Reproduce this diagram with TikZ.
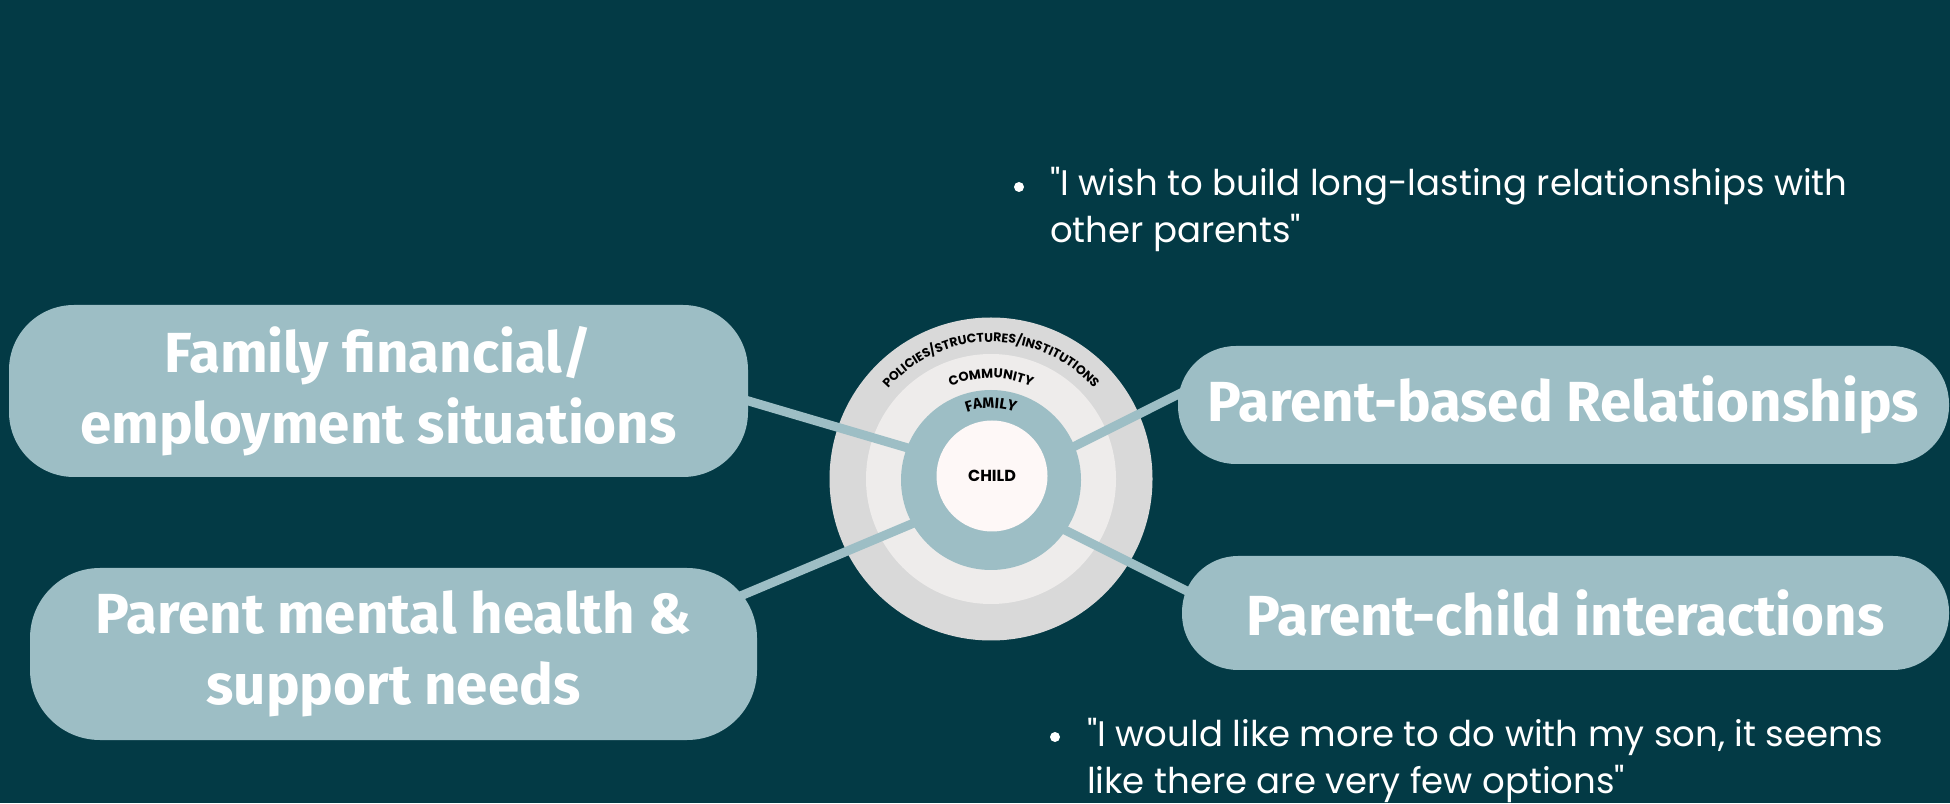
\documentclass[tikz,border=0pt]{standalone}
\usepackage{fontspec}
\usetikzlibrary{decorations.text}
\newfontfamily\boxfont{Fira Sans}
\newfontfamily\quotefont{Poppins}
\definecolor{deepteal}{HTML}{033A45}
\definecolor{paleteal}{HTML}{9DBEC5}
\definecolor{ringgray}{HTML}{D9D9D9}
\definecolor{ringlight}{HTML}{EEECEB}
\definecolor{childwhite}{HTML}{FEF8F7}
\pgfdeclarelayer{backdrop}
\pgfsetlayers{backdrop,main}

\begin{document}
\begin{tikzpicture}[x=1pt,y=1pt,
  pill/.style={fill=paleteal, inner sep=0pt, align=center, text=white,
    font=\boxfont\bfseries\fontsize{56.5}{71}\selectfont},
  ring/.style={circle, inner sep=0pt},
  link/.style={draw=paleteal, line width=9pt, shorten >=-6pt},
  dot/.style={circle, fill=white, inner sep=0pt, minimum size=10pt},
  quote/.style={anchor=base west, inner sep=0pt, align=left, text=white,
    font=\quotefont\fontsize{35.5}{47}\selectfont},
  arclabel/.style={decorate, decoration={text along path, text align=center}}]

% background and outer rings
\begin{pgfonlayer}{backdrop}
\fill[deepteal] (0,0) rectangle (1950,803);
\node[ring, fill=ringgray, minimum size=323pt] (policies) at (991,324) {};
\node[ring, fill=ringlight, minimum size=250pt] (community) at (991,324) {};
\end{pgfonlayer}
\useasboundingbox (0,0) rectangle (1950,803);

\node[ring, fill=paleteal, minimum size=180pt] (family) at (991,323) {};
\node[ring, fill=childwhite, minimum size=111pt,
  font=\quotefont\bfseries\fontsize{16}{18}\selectfont] (child) at (992,327) {CHILD};

% ring labels
\path[arclabel, decoration={text={|\quotefont\bfseries\fontsize{12.5}{13}\selectfont|POLICIES/STRUCTURES/INSTITUTIONS}}]
  (policies.center) ++(170:137) arc[start angle=170, end angle=10, radius=137];
\path[arclabel, decoration={text={|\quotefont\bfseries\fontsize{13}{14}\selectfont|COMMUNITY}}]
  (community.center) ++(170:101) arc[start angle=170, end angle=10, radius=101];
\path[arclabel, decoration={text={|\boxfont\bfseries\fontsize{15}{16}\selectfont|FAMILY}}]
  (family.center) ++(170:72) arc[start angle=170, end angle=10, radius=72];

% boxes
\node[pill, rounded corners=65pt, minimum width=739pt, minimum height=172pt] (finance) at (378.5,412)
  {Family financial/\\employment situations};
\node[pill, rounded corners=70pt, minimum width=727pt, minimum height=172pt] (wellbeing) at (393.5,149)
  {Parent mental health \&\\support needs};
\node[pill, rounded corners=58pt, minimum width=771pt, minimum height=118pt] (peers) at (1563.5,398)
  {Parent-based Relationships};
\node[pill, rounded corners=56pt, minimum width=767pt, minimum height=114pt] (play) at (1565.5,190)
  {Parent-child interactions};

% connectors
\begin{pgfonlayer}{backdrop}
\draw[link] ([shift={(-20pt,-4pt)}]finance.east) -- (family.159);
\draw[link] ([shift={(-50pt,44pt)}]wellbeing.east) -- (family.209);
\draw[link] ([shift={(43pt,32pt)}]peers.west) -- (family.22);
\draw[link] ([shift={(43pt,3pt)}]play.west) -- (family.326);
\end{pgfonlayer}

% quotes
\node[dot] (dotA) at (1019,616) {};
\node[quote] (wish) at (1050,560) {"I wish to build long-lasting relationships with\\other parents"};
\node[dot] (dotB) at (1055,66) {};
\node[quote] (son) at (1087,10) {"I would like more to do with my son, it seems\\like there are very few options"};
\end{tikzpicture}
\end{document}
